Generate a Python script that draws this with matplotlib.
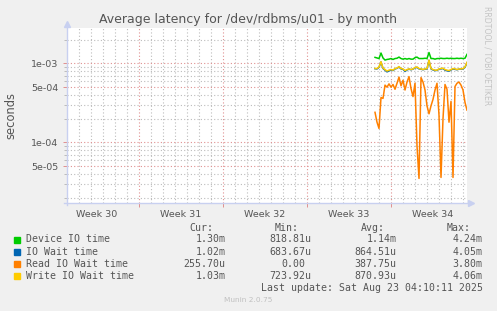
import numpy as np
import matplotlib
matplotlib.use('Agg')
import matplotlib.pyplot as plt
from matplotlib.lines import Line2D
from matplotlib.patches import Rectangle
from matplotlib.ticker import FixedLocator, NullFormatter

# samples every 4 hours, time in days from the left edge of the month window
t_first = 25.667
t_step = 1 / 6

# latency values in microseconds
device_io = [1190, 1170, 1150, 1350, 1170, 1100, 1120, 1130, 1150, 1120,
             1150, 1160, 1200, 1150, 1130, 1150, 1130, 1150, 1130, 1130,
             1180, 1200, 1150, 1150, 1150, 1160, 1150, 1370, 1150, 1150,
             1130, 1150, 1150, 1160, 1150, 1150, 1160, 1150, 1160, 1150,
             1150, 1160, 1150, 1160, 1150, 1160, 1300]
io_wait = [855, 850, 890, 1040, 860, 820, 780, 800, 825, 810,
           850, 865, 900, 850, 840, 790, 825, 845, 830, 845,
           875, 890, 850, 845, 830, 845, 850, 1090, 850, 825,
           810, 815, 845, 850, 860, 820, 805, 795, 825, 850,
           840, 830, 845, 845, 850, 890, 1020]
read_wait = [240, 180, 150, 370, 360, 530, 500, 550, 500, 540,
             470, 560, 670, 520, 610, 460, 580, 680, 480, 380,
             560, 90, 35, 660, 580, 460, 290, 230, 290, 350,
             460, 560, 220, 36, 200, 540, 470, 180, 330, 36,
             510, 560, 580, 530, 460, 320, 256]
write_wait = [860, 860, 900, 1050, 870, 835, 800, 820, 835, 820,
              860, 870, 910, 860, 850, 810, 835, 850, 835, 850,
              885, 900, 860, 850, 835, 850, 860, 1100, 860, 835,
              820, 820, 850, 860, 870, 835, 820, 810, 835, 860,
              850, 835, 850, 850, 860, 900, 1030]

series_names = ['Device IO time', 'IO Wait time', 'Read IO Wait time', 'Write IO Wait time']
series_colors = ['#00cc00', '#0066b3', '#ff8000', '#ffcc00']
cur_vals = ['1.30m', '1.02m', '255.70u', '1.03m']
min_vals = ['818.81u', '683.67u', '0.00', '723.92u']
avg_vals = ['1.14m', '864.51u', '387.75u', '870.93u']
max_vals = ['4.24m', '4.05m', '3.80m', '4.06m']

week_labels = ['Week 30', 'Week 31', 'Week 32', 'Week 33', 'Week 34']
week_starts = [6, 13, 20, 27]
y_labels = ['5e-05', '1e-04', '5e-04', '1e-03']
y_label_vals = [5e-5, 1e-4, 5e-4, 1e-3]

W, H = 497, 311
def fx(x):
    return x / W
def fy(y):
    return 1 - y / H

bg = '#f0f0f0'
red_grid = '#e09090'
gray_grid = '#bcbcbc'
axis_col = '#c8d0f0'
text_col = '#555555'

fig = plt.figure(figsize=(W / 100, H / 100), dpi=100, facecolor=bg)
ax = fig.add_axes([fx(67), fy(203), 400 / W, 175 / H])
ax.set_facecolor('white')

t = t_first + t_step * np.arange(len(device_io))
all_series = [device_io, io_wait, read_wait, write_wait]
for vals, col in zip(all_series, series_colors):
    ax.plot(t, np.array(vals) * 1e-6, color=col, lw=1.1, zorder=3)

ax.set_yscale('log')
ax.set_xlim(0, 400 / 12)
ax.set_ylim(1.71e-5, 2.8e-3)

# grid
for d in range(1, 34):
    is_week = d in week_starts
    ax.axvline(d, color=red_grid if is_week else gray_grid, lw=0.8,
               ls=(0, (1, 2)), zorder=1)
minor_vals = []
for dec in [-5, -4, -3]:
    for m in range(1, 10):
        v = m * 10.0 ** dec
        if 1.71e-5 < v < 2.8e-3 and v not in y_label_vals:
            minor_vals.append(v)
for v in minor_vals:
    ax.axhline(v, color=gray_grid, lw=0.8, ls=(0, (1, 2)), zorder=1)
for v in y_label_vals:
    ax.axhline(v, color=red_grid, lw=0.8, ls=(0, (1, 2)), zorder=1)

ax.yaxis.set_major_locator(FixedLocator(y_label_vals))
ax.yaxis.set_minor_locator(FixedLocator(minor_vals))
ax.yaxis.set_minor_formatter(NullFormatter())
ax.set_yticklabels(y_labels)
ax.tick_params(axis='y', which='major', length=3, width=0.7, color=red_grid,
               labelsize=6.8, labelcolor=text_col, pad=3)
ax.tick_params(axis='y', which='minor', length=2, width=0.7, color=gray_grid)

ax.set_xticks([3.5 + 7 * i - 1 for i in range(len(week_labels))])
ax.set_xticklabels(week_labels)
ax.set_xticks(week_starts, minor=True)
ax.tick_params(axis='x', which='major', length=0, labelsize=6.8,
               labelcolor=text_col, pad=5)
ax.tick_params(axis='x', which='minor', length=3, width=0.7, color=red_grid)

for s in ax.spines.values():
    s.set_visible(False)

# axis lines with arrows
fig.add_artist(Line2D([fx(67), fx(67)], [fy(205), fy(24)], color=axis_col, lw=1))
fig.add_artist(Line2D([fx(64), fx(470)], [fy(203), fy(203)], color=axis_col, lw=1))
fig.add_artist(Line2D([fx(67)], [fy(24)], marker='^', ms=4, color=axis_col, mec=axis_col))
fig.add_artist(Line2D([fx(471)], [fy(203)], marker='>', ms=4, color=axis_col, mec=axis_col))

fig.text(fx(248), fy(19), 'Average latency for /dev/rdbms/u01 - by month',
         ha='center', va='center', fontsize=9.0, color=text_col)
fig.text(fx(11), fy(115), 'seconds', rotation=90, ha='center', va='center',
         fontsize=8.3, color=text_col)
fig.text(fx(487), fy(6), 'RRDTOOL / TOBI OETIKER', rotation=270, ha='center',
         va='top', fontsize=5.6, color='#c4c4c4')

# legend table
mono = 'DejaVu Sans Mono'
fs = 7.1
char_w = 6.0
col_right = [225.7, 311, 396.7, 482.7]
headers = ['Cur:', 'Min:', 'Avg:', 'Max:']
for h, r in zip(headers, col_right):
    fig.text(fx(r - 2 * char_w), fy(227.7), h, ha='right', va='center',
             family=mono, fontsize=fs, color=text_col)
row_y = [239.5, 251.7, 263.7, 275.7]
for i, name in enumerate(series_names):
    y = row_y[i]
    fig.add_artist(Rectangle((fx(14), fy(y + 3)), 6 / W, 6 / H,
                             transform=fig.transFigure, color=series_colors[i]))
    fig.text(fx(26), fy(y), name, ha='left', va='center', family=mono,
             fontsize=fs, color=text_col)
    for vals, r in zip([cur_vals, min_vals, avg_vals, max_vals], col_right):
        v = vals[i]
        shift = 0 if v[-1].isalpha() else char_w
        fig.text(fx(r - shift), fy(y), v, ha='right', va='center',
                 family=mono, fontsize=fs, color=text_col)

fig.text(fx(482.7), fy(287.7), 'Last update: Sat Aug 23 04:10:11 2025',
         ha='right', va='center', family=mono, fontsize=fs, color=text_col)
fig.text(fx(248), fy(300), 'Munin 2.0.75', ha='center', va='center',
         fontsize=5.3, color='#c0c0c0')

fig.savefig('out.png', dpi=100, facecolor=bg)
